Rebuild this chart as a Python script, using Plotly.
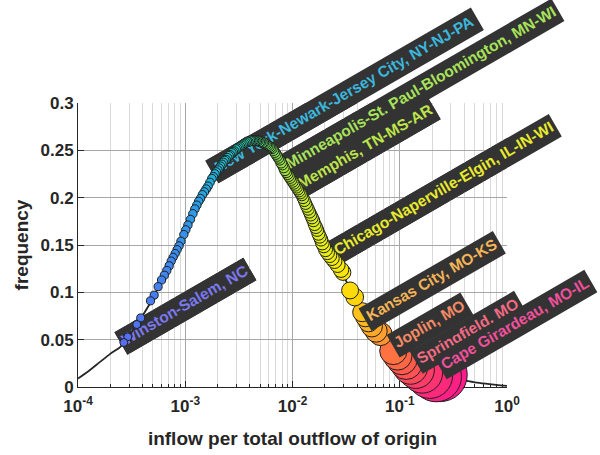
import numpy as np
import plotly.graph_objects as go

# Fitted frequency curve, sampled along log10(inflow share)
curve_log_x = [-4.00, -3.90, -3.80, -3.70, -3.60, -3.50, -3.40, -3.30, -3.20, -3.10,
               -3.00, -2.90, -2.80, -2.70, -2.60, -2.50, -2.40, -2.30, -2.20, -2.10,
               -2.00, -1.90, -1.80, -1.70, -1.60, -1.50, -1.40, -1.30, -1.20, -1.10,
               -1.00, -0.90, -0.80, -0.70, -0.60, -0.50, -0.40, -0.30, -0.20, -0.10, 0.00]
curve_freq = [0.009, 0.017, 0.026, 0.035, 0.043, 0.058, 0.075, 0.094, 0.117, 0.140,
              0.165, 0.190, 0.211, 0.229, 0.243, 0.254, 0.260, 0.259, 0.250, 0.235,
              0.218, 0.200, 0.175, 0.147, 0.132, 0.112, 0.090, 0.070, 0.054, 0.040,
              0.028, 0.021, 0.016, 0.013, 0.011, 0.009, 0.007, 0.005, 0.0035, 0.0022, 0.0012]

# One point per metro-area origin: log10(inflow / total outflow) and frequency
city_log_x = [
    -3.573, -3.536, -3.452, -3.415, -3.324, -3.290, -3.253, -3.221, -3.195, -3.172,
    -3.150, -3.131, -3.113, -3.094, -3.076, -3.058, -3.040, -3.013, -2.995, -2.975,
    -2.952, -2.929, -2.910, -2.892, -2.875, -2.858, -2.840, -2.822, -2.805, -2.788,
    -2.770, -2.752, -2.738, -2.724, -2.710, -2.697, -2.684, -2.671, -2.658, -2.645,
    -2.632, -2.619, -2.606, -2.593, -2.580, -2.567, -2.554, -2.541, -2.528, -2.515,
    -2.502, -2.489, -2.476, -2.463, -2.450, -2.437, -2.424, -2.411, -2.398, -2.385,
    -2.372, -2.359, -2.346, -2.333, -2.320, -2.307, -2.294, -2.281, -2.268, -2.255,
    -2.242, -2.229, -2.216, -2.203, -2.190, -2.178, -2.166, -2.154, -2.142, -2.130,
    -2.118, -2.106, -2.094, -2.082, -2.070, -2.058, -2.046, -2.034, -2.022, -2.010,
    -1.998, -1.986, -1.974, -1.962, -1.950, -1.938, -1.926, -1.914, -1.902, -1.890,
    -1.878, -1.866, -1.854, -1.842, -1.830, -1.818, -1.806, -1.794, -1.782, -1.770,
    -1.758, -1.746, -1.734, -1.722, -1.708, -1.692, -1.674, -1.654, -1.632, -1.608,
    -1.580, -1.548, -1.530, -1.463, -1.420, -1.350, -1.320, -1.290, -1.260, -1.220,
    -1.180, -1.060, -1.020, -0.980, -0.940, -0.900, -0.850, -0.790, -0.720, -0.660,
    -0.622]
city_freq = [
    0.047, 0.053, 0.066, 0.073, 0.091, 0.097, 0.106, 0.113, 0.118, 0.123,
    0.128, 0.133, 0.137, 0.141, 0.145, 0.149, 0.154, 0.161, 0.166, 0.171,
    0.177, 0.183, 0.188, 0.192, 0.196, 0.199, 0.203, 0.206, 0.209, 0.212,
    0.216, 0.220, 0.222, 0.225, 0.227, 0.229, 0.231, 0.233, 0.235, 0.237,
    0.239, 0.240, 0.242, 0.244, 0.245, 0.247, 0.248, 0.249, 0.251, 0.252,
    0.253, 0.254, 0.255, 0.256, 0.257, 0.258, 0.259, 0.259, 0.260, 0.260,
    0.260, 0.260, 0.260, 0.260, 0.260, 0.259, 0.259, 0.258, 0.258, 0.257,
    0.256, 0.255, 0.254, 0.253, 0.252, 0.250, 0.248, 0.246, 0.244, 0.242,
    0.240, 0.237, 0.235, 0.232, 0.229, 0.227, 0.225, 0.223, 0.221, 0.219,
    0.217, 0.215, 0.213, 0.211, 0.209, 0.207, 0.205, 0.203, 0.200, 0.197,
    0.194, 0.191, 0.188, 0.185, 0.182, 0.179, 0.176, 0.172, 0.169, 0.166,
    0.162, 0.159, 0.156, 0.152, 0.149, 0.145, 0.142, 0.139, 0.136, 0.133,
    0.129, 0.124, 0.121, 0.102, 0.095, 0.079, 0.074, 0.069, 0.064, 0.059,
    0.056, 0.038, 0.033, 0.029, 0.025, 0.021, 0.018, 0.015, 0.012, 0.011,
    0.013]

# Labelled origins
label_names = ["Winston-Salem, NC",
               "New York-Newark-Jersey City, NY-NJ-PA",
               "Minneapolis-St. Paul-Bloomington, MN-WI",
               "Memphis, TN-MS-AR",
               "Chicago-Naperville-Elgin, IL-IN-WI",
               "Kansas City, MO-KS",
               "Joplin, MO",
               "Springfield, MO",
               "Cape Girardeau, MO-IL"]
label_log_x = [-3.600, -2.752, -2.070, -1.958, -1.622, -1.323, -1.062, -0.847, -0.623]
label_freq = [0.046, 0.227, 0.232, 0.211, 0.141, 0.071, 0.043, 0.026, 0.020]
label_colors = ["#7b78f0", "#3bb7dd", "#a8e25a", "#bde44a", "#e9ea2e",
                "#f3b458", "#f38a66", "#f26a84", "#f0509c"]
# tags of the small-circle cities sit beneath the circles, the rest above them
label_under = [True, True, True, True, True, False, False, False, False]

x_tick_vals = [1e-4, 1e-3, 1e-2, 1e-1, 1]
x_tick_text = ["10<sup>-4</sup>", "10<sup>-3</sup>", "10<sup>-2</sup>",
               "10<sup>-1</sup>", "10<sup>0</sup>"]
y_tick_vals = [0, 0.05, 0.1, 0.15, 0.2, 0.25, 0.3]
y_tick_text = ["0", "0.05", "0.1", "0.15", "0.2", "0.25", "0.3"]

X_RANGE = [-4.0, 0.0]   # log10 units
Y_RANGE = [0.0, 0.3]

FONT = "Liberation Sans, Arial, Helvetica, sans-serif"
INK = "#262626"

# colour ramp along log10(inflow share)
c_lo, c_hi = -3.6, -0.62
ramp = [(-3.60, "#5a6cf2"), (-3.15, "#3f86ee"), (-2.90, "#2c9ce6"), (-2.75, "#22b0da"),
        (-2.55, "#1ec4c0"), (-2.40, "#2ed09a"), (-2.25, "#66da60"), (-2.07, "#a2e23c"),
        (-1.90, "#c8ea28"), (-1.72, "#e8f018"), (-1.55, "#fae60c"), (-1.42, "#ffd40a"),
        (-1.30, "#ffb424"), (-1.15, "#ff8c38"), (-1.00, "#ff6048"), (-0.85, "#ff3c68"),
        (-0.62, "#ff1a8c")]
colorscale = [[(v - c_lo) / (c_hi - c_lo), c] for v, c in ramp]

cx = np.array(city_log_x)
share = 10.0 ** cx
sizes = 7.5 + 145 * share + 24 * np.sqrt(share)

fig = go.Figure()

fig.add_trace(go.Scatter(
    x=10.0 ** np.array(curve_log_x), y=curve_freq, mode="lines",
    line=dict(color=INK, width=1.8, shape="spline", smoothing=0.8),
    hoverinfo="skip", showlegend=False))

# larger circles first so the smaller ones sit on top
order = np.argsort(-sizes, kind="stable")
fig.add_trace(go.Scatter(
    x=share[order], y=np.array(city_freq)[order], mode="markers",
    marker=dict(size=sizes[order], color=cx[order], colorscale=colorscale,
                cmin=c_lo, cmax=c_hi, opacity=1,
                line=dict(color="#1e1e1e", width=1)),
    cliponaxis=False, showlegend=False))

# Helvetica-Bold advance widths (1/1000 em) for the tag text
ADV = {" ": 278, ",": 278, "-": 333, ".": 278,
       "A": 722, "B": 722, "C": 722, "D": 722, "E": 667, "F": 611, "G": 778, "H": 722,
       "I": 278, "J": 556, "K": 722, "L": 611, "M": 833, "N": 722, "O": 778, "P": 667,
       "R": 722, "S": 667, "T": 611, "W": 944, "Y": 667,
       "a": 556, "b": 611, "c": 556, "d": 611, "e": 556, "f": 333, "g": 611, "h": 611,
       "i": 278, "j": 278, "k": 556, "l": 278, "m": 889, "n": 611, "o": 611, "p": 611,
       "r": 389, "s": 556, "t": 333, "u": 611, "v": 556, "w": 778, "y": 556, "z": 500}
TAG_FONT = 15.5
TAG_PAD = 3.0
TAG_H = 26.0
TEXT_LIFT = 3.0     # nudges the tag text toward the tag's upper edge
angle = np.radians(30.0)
ux, uy = np.cos(angle), np.sin(angle)      # along the text (pixel units, y up)
nx, ny = -np.sin(angle), np.cos(angle)     # across the text


def tag_shape(name, col, path, **where):
    return dict(type="path", xsizemode="pixel", ysizemode="pixel", path=path,
                fillcolor="#333333", line=dict(width=0),
                label=dict(text=f"<b>{name}</b>", textangle=-30,
                           textposition="middle center", padding=0,
                           font=dict(family=FONT, size=TAG_FONT, color=col)),
                **where)


for name, lx, fy, col, under in zip(label_names, label_log_x, label_freq,
                                    label_colors, label_under):
    length = sum(ADV.get(ch, 600) for ch in name) * TAG_FONT / 1000 + 2 * TAG_PAD
    # the middle of the tag's left edge sits on the labelled point
    llx, lly = -nx * TAG_H / 2, -ny * TAG_H / 2
    ulx, uly = nx * TAG_H / 2, ny * TAG_H / 2
    lrx, lry = llx + ux * length, lly + uy * length
    urx, ury = ulx + ux * length, uly + uy * length
    # a zero-size sub-path widens the label box so the text centre moves up
    px = ulx + 2 * TEXT_LIFT * nx
    py = ury + 2 * TEXT_LIFT * ny
    path = (f"M{llx:.2f},{lly:.2f} L{lrx:.2f},{lry:.2f} "
            f"L{urx:.2f},{ury:.2f} L{ulx:.2f},{uly:.2f} Z "
            f"M{px:.2f},{py:.2f} Z")
    # anchor as a fraction of the axis domains (these refs are not clipped)
    fx = (lx - X_RANGE[0]) / (X_RANGE[1] - X_RANGE[0])
    fyd = (fy - Y_RANGE[0]) / (Y_RANGE[1] - Y_RANGE[0])
    dom = dict(xref="x domain", yref="y domain", xanchor=fx, yanchor=fyd)
    if under:
        # full tag below the subplot layers (shows outside the plot area) ...
        fig.add_shape(tag_shape(name, col, path, layer="below", **dom))
        # ... and the same tag between grid and circles inside the plot area
        fig.add_shape(tag_shape(name, col, path, layer="between", xref="x", yref="y",
                                xanchor=10.0 ** lx, yanchor=fy))
    else:
        fig.add_shape(tag_shape(name, col, path, layer="above", **dom))

minor_x = [m * 10.0 ** e for e in range(-4, 0) for m in range(2, 10)]

fig.update_layout(
    width=600, height=455,
    margin=dict(l=78, r=93, t=103, b=68),
    paper_bgcolor="white", plot_bgcolor="white",
    font=dict(family=FONT, color=INK),
    xaxis=dict(
        type="log", range=X_RANGE, tickmode="array",
        tickvals=x_tick_vals, ticktext=x_tick_text,
        tickfont=dict(family=FONT, size=17, color=INK, weight="bold"),
        ticks="inside", ticklen=6, tickcolor=INK, tickwidth=1, ticklabelstandoff=4,
        showline=True, linecolor=INK, linewidth=1, mirror=False,
        showgrid=True, gridcolor="#a6a6a6", gridwidth=1, zeroline=False,
        layer="below traces", automargin=False,
        minor=dict(tickmode="array", tickvals=minor_x, ticks="inside", ticklen=3,
                   tickcolor=INK, showgrid=True, gridcolor="#d9d9d9", gridwidth=1),
        title=dict(text="<b>inflow per total outflow of origin</b>",
                   font=dict(family=FONT, size=19, color=INK), standoff=16)),
    yaxis=dict(
        range=Y_RANGE, tickmode="array", tickvals=y_tick_vals, ticktext=y_tick_text,
        tickfont=dict(family=FONT, size=17, color=INK, weight="bold"),
        ticks="inside", ticklen=6, tickcolor=INK, tickwidth=1,
        showline=True, linecolor=INK, linewidth=1, mirror=False,
        showgrid=True, gridcolor="#a6a6a6", gridwidth=1, zeroline=False,
        layer="below traces", automargin=False,
        title=dict(text="<b>frequency</b>",
                   font=dict(family=FONT, size=19, color=INK), standoff=6)),
)

fig.write_html("out.html")
